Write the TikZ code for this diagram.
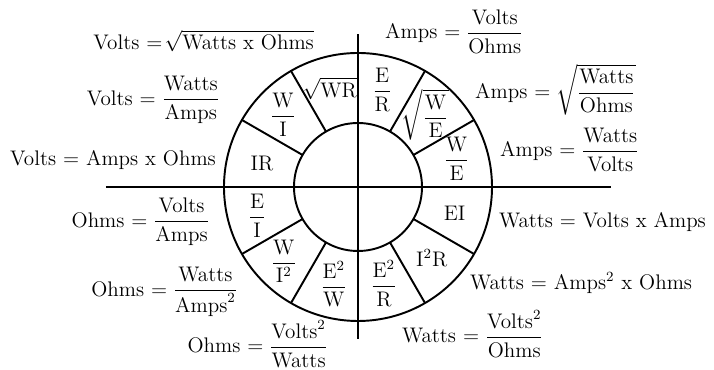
\documentclass[tikz,border=0pt]{standalone}
\usepackage{amsmath}
\usepackage{tikz}
\usetikzlibrary{positioning}
\newcommand{\uq}[1]{\mathrm{#1}}
\newcommand{\tq}[1]{\text{#1}}
\tikzset{
  wheel/.style={line width=1.1pt},
  cell/.style={align=center, inner sep=1pt},
  formula/.style={align=center, inner sep=1pt},
  every node/.style={font=\fontsize{12}{14}\selectfont}
}
\begin{document}
\begin{tikzpicture}
    \useasboundingbox (-7.16,-3.66) rectangle (7.12,3.74);
    % axes and rings
    \coordinate (west) at (-5.04,0);
    \coordinate (east) at (5.06,0);
    \coordinate (north) at (0,3.06);
    \coordinate (south) at (0,-3.04);
    \draw[wheel] (west) -- (east);
    \draw[wheel] (south) -- (north);
    \draw[wheel] (0,0) circle[radius=2.68];
    \draw[wheel] (0,0) circle[radius=1.28];
    \foreach \a in {30,60,120,150,210,240,300,330}
      \draw[wheel] (\a:1.28) -- (\a:2.68);
    % cells of the wheel
    \node[cell] (er) at (76:2.0) {$\dfrac{\uq{E}}{\uq{R}}$};
    \node[cell] (swe) at (47:1.97) {$\sqrt{\dfrac{\uq{W}}{\uq{E}}}$};
    \node[cell] (we) at (16:2.05) {$\dfrac{\uq{W}}{\uq{E}}$};
    \node[cell] (ei) at (-15:2.0) {EI};
    \node[cell] (iir) at (-44:2.05) {I$^2$R};
    \node[cell] (eer) at (-75:2.0) {$\dfrac{\uq{E}^2}{\uq{R}}$};
    \node[cell] (eew) at (-104:2.0) {$\dfrac{\uq{E}^2}{\uq{W}}$};
    \node[cell] (wii) at (-135:2.1) {$\dfrac{\uq{W}}{\uq{I}^2}$};
    \node[cell] (ei2) at (-164:2.1) {$\dfrac{\uq{E}}{\uq{I}}$};
    \node[cell] (ir) at (166:1.98) {IR};
    \node[cell] (wi) at (136:2.08) {$\dfrac{\uq{W}}{\uq{I}}$};
    \node[cell] (swr) at (106:2.05) {$\sqrt{\uq{WR}}$};
    % formulas round the wheel
    \node[formula, anchor=east] (volts1) at (-0.84,2.92) {Volts $=\!\sqrt{\tq{Watts x Ohms}}$};
    \node[formula, anchor=east] (volts2) at (-2.72,1.74) {Volts $=\dfrac{\tq{Watts}}{\tq{Amps}}$};
    \node[formula, anchor=east] (volts3) at (-2.8,0.54) {Volts = Amps x Ohms};
    \node[formula, anchor=west] (amps1) at (0.5,3.1) {Amps $=\dfrac{\tq{Volts}}{\tq{Ohms}}$};
    \node[formula, anchor=west] (amps2) at (2.3,1.94) {Amps $=\sqrt{\dfrac{\tq{Watts}}{\tq{Ohms}}}$};
    \node[formula, anchor=west] (amps3) at (2.8,0.74) {Amps $=\dfrac{\tq{Watts}}{\tq{Volts}}$};
    \node[formula, anchor=east] (ohms1) at (-2.92,-0.7) {Ohms $=\dfrac{\tq{Volts}}{\tq{Amps}}$};
    \node[formula, anchor=east] (ohms2) at (-2.36,-2.1) {Ohms $=\dfrac{\tq{Watts}}{\tq{Amps}^2}$};
    \node[formula, anchor=east] (ohms3) at (-0.56,-3.14) {Ohms $=\dfrac{\tq{Volts}^2}{\tq{Watts}}$};
    \node[formula, anchor=west] (watts1) at (2.78,-0.7) {Watts = Volts x Amps};
    \node[formula, anchor=west] (watts2) at (2.2,-1.92) {Watts = Amps$^2$ x Ohms};
    \node[formula, anchor=west] (watts3) at (0.84,-2.94) {Watts $=\dfrac{\tq{Volts}^2}{\tq{Ohms}}$};
\end{tikzpicture}
\end{document}
